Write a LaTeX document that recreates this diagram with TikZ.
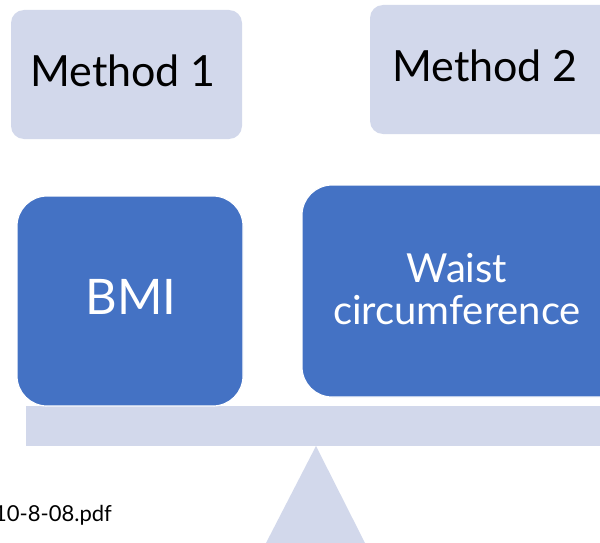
\documentclass[tikz,border=0pt]{standalone}
\usepackage{fontspec}
\setmainfont{Lato}
\definecolor{lightbox}{HTML}{D2D8EB}
\definecolor{bluebox}{HTML}{4472C4}
\begin{document}
\begin{tikzpicture}[x=1pt,y=-1pt,
  methodbox/.style={fill=lightbox, draw=none, rounded corners=13pt},
  itembox/.style={fill=bluebox, draw=white, line width=1.2pt, rounded corners=30pt},
  methodtext/.style={font=\fontsize{43}{47}\selectfont, text=black},
  itemtext/.style={text=white, align=center}]
\useasboundingbox (0,0) rectangle (600,543);
\begin{scope}
\clip (0,0) rectangle (600,543);
% method boxes
\path[methodbox] (11,10) rectangle (242,139);
\node[methodtext] (m1) at (123,71) {Method 1};
\path[methodbox] (370,5) rectangle (614,134);
\node[methodtext] (m2) at (485,66) {Method 2};
% beam and fulcrum
\path[fill=lightbox] (26,406) rectangle (620,446);
\path[fill=lightbox] (316,446) -- (365,543) -- (266,543) -- cycle;
% item boxes
\path[itembox] (17,196) rectangle (243,406);
\node[itemtext, font=\fontsize{49}{54}\selectfont] (bmi) at (131,297) {BMI};
\path[itembox] (302,185) rectangle (630,397);
\node[itemtext, font=\fontsize{40}{42}\selectfont] (waist) at (457,289) {Waist\\circumference};
% filename
\node[anchor=base west, inner sep=0pt, font=\fontsize{22}{26}\selectfont] (fn) at (-6,521) {10-8-08.pdf};
\end{scope}
\end{tikzpicture}
\end{document}
